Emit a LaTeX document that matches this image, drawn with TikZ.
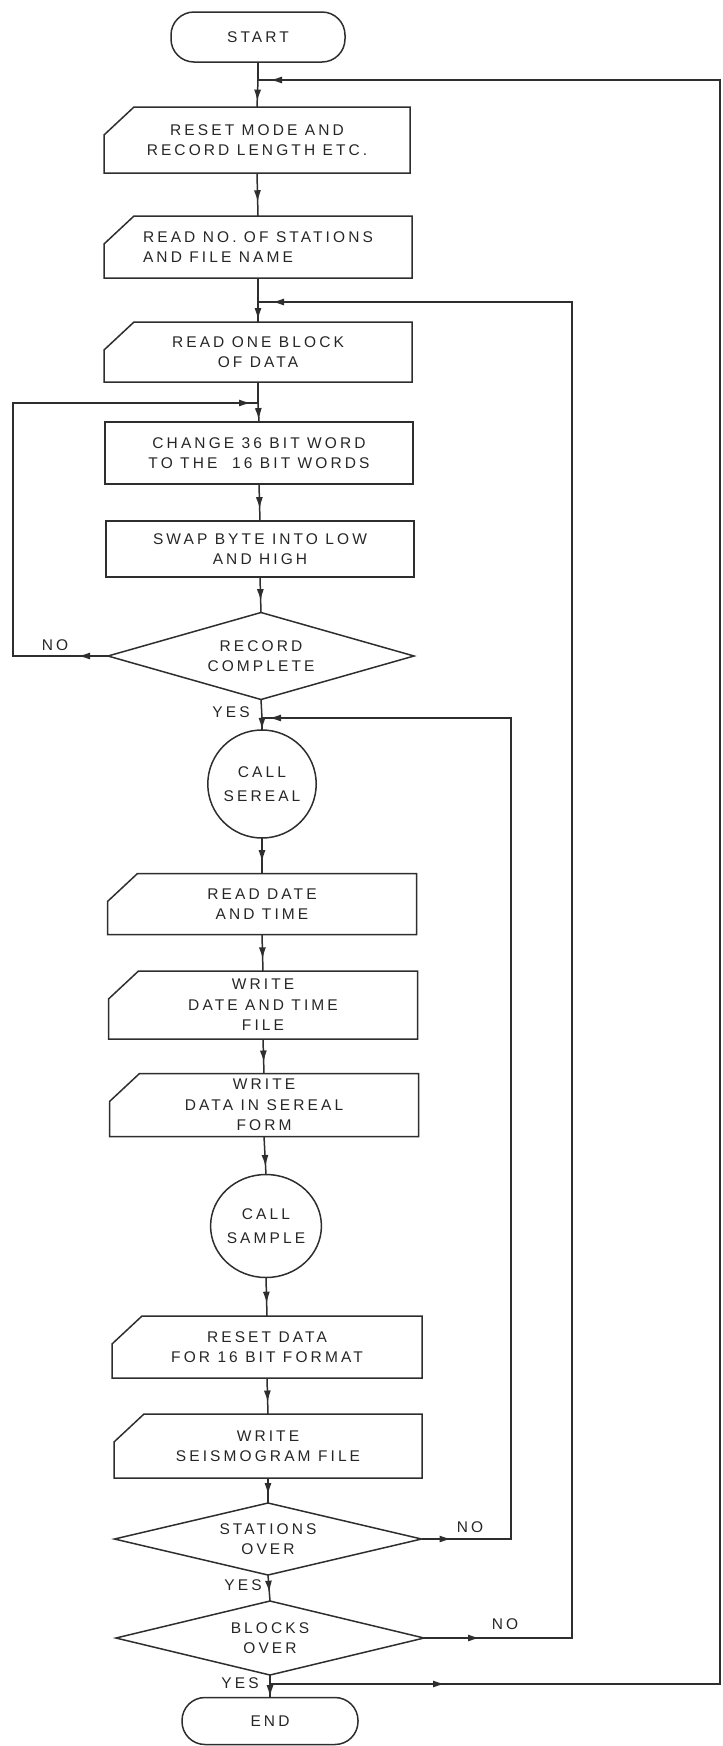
\documentclass[tikz,border=0pt]{standalone}
\usepackage{fontspec}
\newfontfamily\lettering{Liberation Sans}[LetterSpace=20]
\usetikzlibrary{arrows.meta,decorations.markings,shapes.geometric}
\newcommand\cardoutline[1]{\draw[ink] (#1.south west) -- (#1.south east) -- (#1.north east) -- ([xshift=30pt]#1.north west) -- ([yshift=-28pt]#1.north west) -- cycle;}
\newcommand\rectoutline[1]{\draw[ink] (#1.south west) -- (#1.south east) -- (#1.north east) -- (#1.north west) -- cycle;}
\newcommand\decisionoutline[1]{\draw[ink] (#1.north) -- (#1.east) -- (#1.south) -- (#1.west) -- cycle;}
\begin{document}
\begin{tikzpicture}[x=1pt,y=-1pt,
  ink/.style={draw=black!82, line width=1.5pt, line join=miter},
  txt/.style={font=\lettering\fontsize{15.5}{20.5}\selectfont, text=black!85, align=center, inner sep=0pt, outer sep=0pt},
  plainbox/.style={txt, rectangle},
  cardbox/.style={txt, rectangle},
  decision/.style={txt, rectangle},
  terminal/.style={txt, rectangle, rounded corners=23pt, ink},
  callnode/.style={txt, ellipse, ink},
  flow/.style={ink},
  markat/.style={postaction={decorate, decoration={markings, mark=at position #1 with {\arrow{Latex[length=12pt,width=7pt]}}}}},
  lab/.style={txt}
]
\useasboundingbox (0,0) rectangle (723,1746);

% nodes
\node[terminal, minimum width=174pt, minimum height=50pt] (strt) at (258,37) {START};
\node[cardbox, minimum width=306pt, minimum height=66pt] (b1) at (257,140) {RESET MODE AND\\RECORD LENGTH ETC.};
\node[cardbox, minimum width=308pt, minimum height=62pt, align=left] (b2) at (258,247) {READ NO. OF STATIONS\\AND FILE NAME};
\node[cardbox, minimum width=308pt, minimum height=60pt] (b3) at (258,352) {READ ONE BLOCK\\OF DATA};
\node[plainbox, minimum width=308pt, minimum height=62pt] (b4) at (259,453) {CHANGE 36 BIT WORD\\TO THE\ \ 16 BIT WORDS};
\node[plainbox, minimum width=308pt, minimum height=56pt] (b5) at (260,549) {SWAP BYTE INTO LOW\\AND HIGH};
\node[decision, minimum width=306pt, minimum height=87pt] (d1) at (261,656) {RECORD\\COMPLETE};
\node[callnode, minimum width=108pt, minimum height=108pt] (c1) at (262,784) {CALL\\[3pt]SEREAL};
\node[cardbox, minimum width=309pt, minimum height=61pt] (b6) at (262,904) {READ DATE\\AND TIME};
\node[cardbox, minimum width=309pt, minimum height=68pt] (b7) at (263,1005) {WRITE\\DATE AND TIME\\FILE};
\node[cardbox, minimum width=309pt, minimum height=63pt] (b8) at (264,1105) {WRITE\\DATA IN SEREAL\\FORM};
\node[callnode, minimum width=106pt, minimum height=103pt] (c2) at (266,1226) {CALL\\[3pt]SAMPLE};
\node[cardbox, minimum width=310pt, minimum height=62pt] (b9) at (267,1347) {RESET DATA\\FOR 16 BIT FORMAT};
\node[cardbox, minimum width=308pt, minimum height=64pt] (b10) at (268,1446) {WRITE\\SEISMOGRAM FILE};
\node[decision, minimum width=307pt, minimum height=72pt] (d2) at (268,1539) {STATIONS\\OVER};
\node[decision, minimum width=308pt, minimum height=74pt] (d3) at (270,1638) {BLOCKS\\OVER};
\node[terminal, minimum width=176pt, minimum height=47pt] (stop) at (270,1721) {END};

\cardoutline{b1}
\cardoutline{b2}
\cardoutline{b3}
\rectoutline{b4}
\rectoutline{b5}
\cardoutline{b6}
\cardoutline{b7}
\cardoutline{b8}
\cardoutline{b9}
\cardoutline{b10}
\decisionoutline{d1}
\decisionoutline{d2}
\decisionoutline{d3}

% junctions and corners
\coordinate (j1) at (258,80);
\coordinate (j2) at (258,302);
\coordinate (j3) at (258,403);
\coordinate (j4) at (262,718);
\coordinate (j5) at (270,1684);
\coordinate (r1) at (720,80);
\coordinate (r2) at (572,302);
\coordinate (r3) at (511,718);
\coordinate (l4) at (13,403);

% main flow
\draw[flow] (strt.south) -- (j1);
\draw[flow, markat=0.8] (j1) -- (b1.north);
\draw[flow, markat=0.68] (b1.south) -- (b2.north);
\draw[flow] (b2.south) -- (j2);
\draw[flow, markat=0.9] (j2) -- (b3.north);
\draw[flow] (b3.south) -- (j3);
\draw[flow, markat=0.9] (j3) -- (b4.north);
\draw[flow, markat=0.68] (b4.south) -- (b5.north);
\draw[flow, markat=0.68] (b5.south) -- (d1.north);
\draw[flow] (d1.south) -- (j4);
\draw[flow, markat=0.99] (j4) -- (c1.north);
\draw[flow, markat=0.68] (c1.south) -- (b6.north);
\draw[flow, markat=0.68] (b6.south) -- (b7.north);
\draw[flow, markat=0.68] (b7.south) -- (b8.north);
\draw[flow, markat=0.8] (b8.south) -- (c2.north);
\draw[flow, markat=0.68] (c2.south) -- (b9.north);
\draw[flow, markat=0.68] (b9.south) -- (b10.north);
\draw[flow, markat=0.68] (b10.south) -- (d2.north);
\draw[flow, markat=0.68] (d2.south) -- (d3.north);
\draw[flow] (d3.south) -- (j5);
\draw[flow, markat=0.97] (j5) -- (stop.north);

% loops
\draw[flow, markat=175pt, markat=-12pt] (j5) -| (r1) -- (j1);
\draw[flow, markat=56pt, markat=-14pt] (d3.east) -| (r2) -- (j2);
\draw[flow, markat=30pt, markat=-7pt] (d2.east) -| (r3) -- (j4);
\draw[flow, markat=30pt, markat=-7pt] (d1.west) -| (l4) -- (j3);

% labels
\node[lab] (no1) at (55,645) {NO};
\node[lab] (yes1) at (231,712) {YES};
\node[lab] (no2) at (470,1527) {NO};
\node[lab] (yes2) at (243,1585) {YES};
\node[lab] (no3) at (505,1624) {NO};
\node[lab] (yes3) at (240,1683) {YES};
\end{tikzpicture}
\end{document}
